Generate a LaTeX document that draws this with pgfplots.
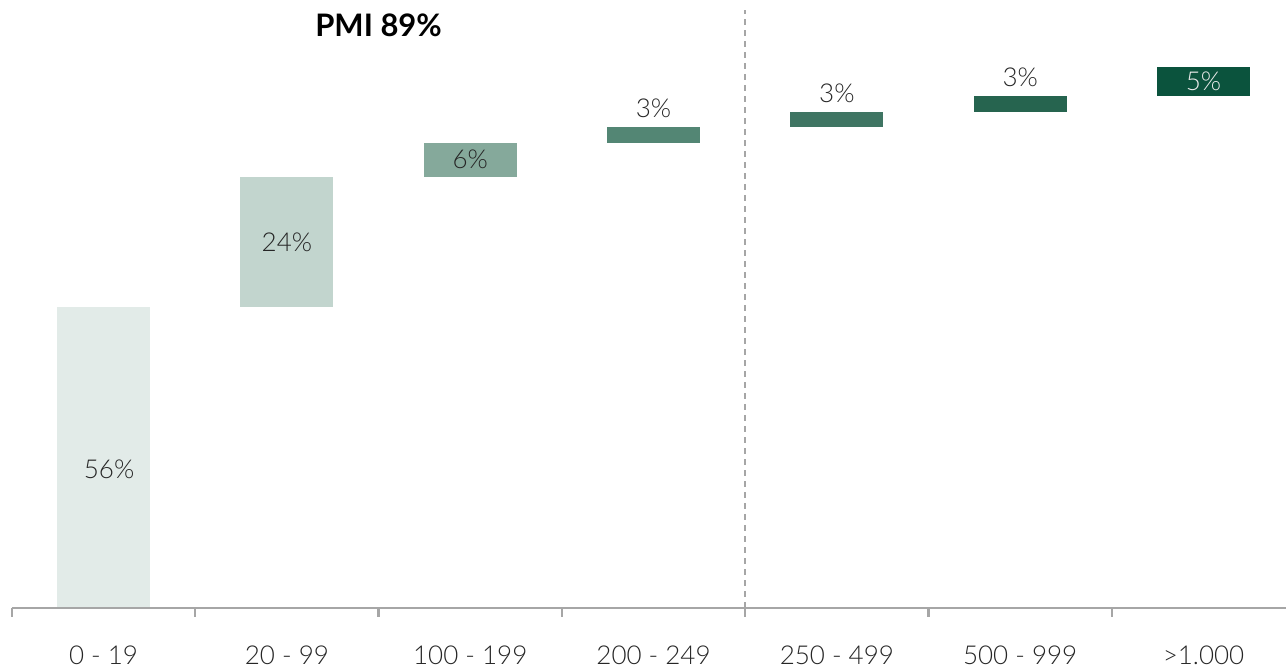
\documentclass[border=0pt]{standalone}
\usepackage{fontspec}
\setmainfont{Lato}[UprightFont=* Light, BoldFont=* Bold]
\usepackage{pgfplots}
\pgfplotsset{compat=1.18}
\definecolor{c1}{HTML}{E2EBE8}
\definecolor{c2}{HTML}{C2D5CE}
\definecolor{c3}{HTML}{85A99B}
\definecolor{c4}{HTML}{538674}
\definecolor{c5}{HTML}{3F7563}
\definecolor{c6}{HTML}{26644F}
\definecolor{c7}{HTML}{0B533D}
\definecolor{axgray}{HTML}{A6A6A6}
\definecolor{txt}{HTML}{262626}
\begin{document}
\begin{tikzpicture}
\begin{axis}[
  scale only axis, width=643pt, height=335pt,
  xmin=-0.565, xmax=6.45, ymin=-11.5, ymax=112.6,
  axis lines=none, clip=false,
  nodes={font=\fontsize{13pt}{15pt}\selectfont, text=txt},
]
% bars: (start, end)
\addplot[fill=c1, draw=none] coordinates {(-0.254,0) (0.254,0) (0.254,55.8) (-0.254,55.8)} -- cycle;
\addplot[fill=c2, draw=none] coordinates {(0.746,55.8) (1.254,55.8) (1.254,79.9) (0.746,79.9)} -- cycle;
\addplot[fill=c3, draw=none] coordinates {(1.746,79.9) (2.254,79.9) (2.254,86.1) (1.746,86.1)} -- cycle;
\addplot[fill=c4, draw=none] coordinates {(2.746,86.1) (3.254,86.1) (3.254,89.1) (2.746,89.1)} -- cycle;
\addplot[fill=c5, draw=none] coordinates {(3.746,89.1) (4.254,89.1) (4.254,91.9) (3.746,91.9)} -- cycle;
\addplot[fill=c6, draw=none] coordinates {(4.746,91.9) (5.254,91.9) (5.254,94.9) (4.746,94.9)} -- cycle;
\addplot[fill=c7, draw=none] coordinates {(5.746,94.9) (6.254,94.9) (6.254,100.2) (5.746,100.2)} -- cycle;
% axis line and ticks
\addplot[axgray, line width=1.2pt] coordinates {(-0.5,0) (6.45,0)};
\addplot[axgray, line width=1.2pt] coordinates {(-0.5,0) (-0.5,-1.6)};
\addplot[axgray, line width=1.2pt] coordinates {(0.5,0) (0.5,-1.6)};
\addplot[axgray, line width=1.2pt] coordinates {(1.5,0) (1.5,-1.6)};
\addplot[axgray, line width=1.2pt] coordinates {(2.5,0) (2.5,-1.6)};
\addplot[axgray, line width=1.2pt] coordinates {(3.5,0) (3.5,-1.6)};
\addplot[axgray, line width=1.2pt] coordinates {(4.5,0) (4.5,-1.6)};
\addplot[axgray, line width=1.2pt] coordinates {(5.5,0) (5.5,-1.6)};
% dashed divider
\addplot[axgray, line width=0.8pt, dash pattern=on 3pt off 2.5pt] coordinates {(3.5,0) (3.5,110.8)};
% value labels
\node at (axis cs:0.03,25.7) {56\%};
\node at (axis cs:1,67.8) {24\%};
\node at (axis cs:2,83.0) {6\%};
\node at (axis cs:3,92.6) {3\%};
\node at (axis cs:4,95.3) {3\%};
\node at (axis cs:5,98.3) {3\%};
\node[text=white!85!gray] at (axis cs:6,97.5) {5\%};
% category labels
\node at (axis cs:0,-8.7) {0 - 19};
\node at (axis cs:1,-8.7) {20 - 99};
\node at (axis cs:2,-8.7) {100 - 199};
\node at (axis cs:3,-8.7) {200 - 249};
\node at (axis cs:4,-8.7) {250 - 499};
\node at (axis cs:5,-8.7) {500 - 999};
\node at (axis cs:6,-8.7) {>1.000};
\node[font=\fontsize{15.5pt}{18pt}\bfseries\selectfont, text=black] at (axis cs:1.5,108) {PMI 89\%};
\end{axis}
\pgfresetboundingbox
\useasboundingbox (current axis.south west) rectangle (current axis.north east);
\end{tikzpicture}
\end{document}
